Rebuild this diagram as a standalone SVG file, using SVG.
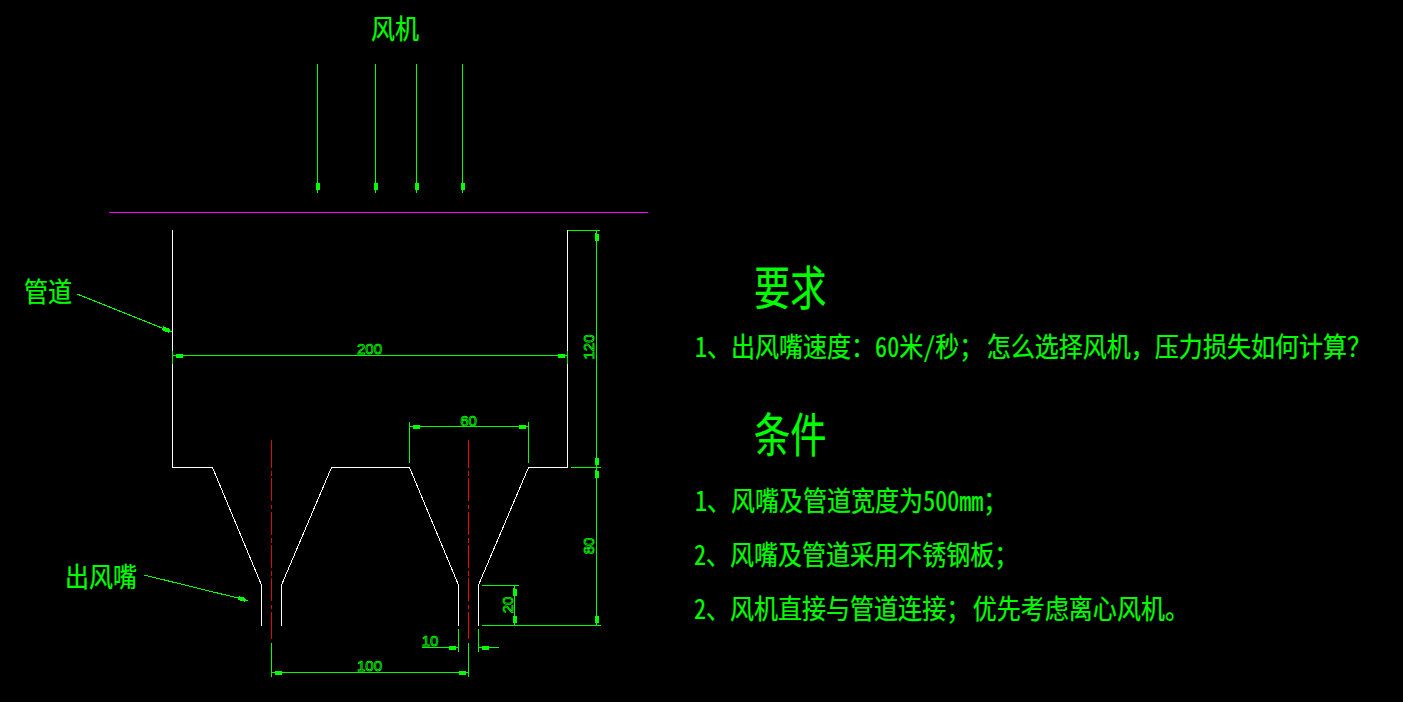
<svg xmlns="http://www.w3.org/2000/svg" width="1403" height="702" viewBox="0 0 1403 702">
<style>
.w{fill:none;stroke:#fff;stroke-width:1;shape-rendering:crispEdges}
.g{fill:none;stroke:#0f0;stroke-width:1;shape-rendering:crispEdges}
.a{marker-end:url(#arr)}
.b{marker-start:url(#arr);marker-end:url(#arr)}
.c{font-family:"Noto Sans CJK SC","Noto Sans CJK TC",sans-serif;fill:#0f0;stroke:#0f0;stroke-width:.25}
.n{font-feature-settings:"hwid"}
.t{font-size:27.3px}
.h{font-size:47px}
.d{font-family:"Liberation Sans",Arial,sans-serif;font-size:15px;fill:none;stroke:#0f0;stroke-width:.75;text-anchor:middle}
.cl{fill:none;stroke-width:1;shape-rendering:crispEdges}
</style>
<defs>
<marker id="arr" markerUnits="userSpaceOnUse" markerWidth="12" markerHeight="8" refX="11" refY="4" orient="auto-start-reverse" overflow="visible">
<path d="M11 4 L8 3 L8 2 L1 2 L1 6 L8 6 L8 5 Z" fill="#0f0" shape-rendering="crispEdges"/>
</marker>
</defs>
<rect width="1403" height="702" fill="#000"/>
<g id="duct">
<path class="w" d="M172.5 230V467.5H212.5L261.5 585V626M281.5 626V585L331.5 467.5H409.5L458.5 585V626M478.5 626V585L528.5 467.5H567.5V230"/>
</g>
<g id="centerlines">
<path class="cl" stroke="#d21010" stroke-dasharray="23 3.3 4.7 2.3" d="M271.5 445V612"/>
<path class="cl" stroke="#d21010" d="M271.5 440V468M271.5 612V639"/>
<path class="cl" stroke="#f00" stroke-dasharray="23 3.3 4.7 2.3" d="M468.5 445V612"/>
<path class="cl" stroke="#f00" d="M468.5 440V468M468.5 612V639"/>
</g>
<g id="baffle"><path d="M109 212.5H648" fill="none" stroke="#f0f" stroke-width="1" shape-rendering="crispEdges"/></g>
<g id="connectors">
<path class="g a" d="M317.5 64V193"/>
<path class="g a" d="M375.5 64V193"/>
<path class="g a" d="M416.5 64V193"/>
<path class="g a" d="M462.5 64V193"/>
<path class="g a" d="M77 294L172 332"/>
<path class="g a" d="M144 575L248 600.5"/>
<path class="g b" d="M172.5 355.5H567.5"/>
<path class="g" d="M172.5 351V364M567.5 351V364"/>
<path class="g b" d="M409.5 426.5H528.5"/>
<path class="g" d="M409.5 422V463M528.5 422V463"/>
<path class="g b" d="M596.5 230.5V467.5"/>
<path class="g b" d="M596.5 467.5V625.5"/>
<path class="g" d="M568 230.5H600M571 467.5H601M482 625.5H601M482 585.5H519"/>
<path class="g b" d="M514.5 585.5V625.5"/>
<path class="g a" d="M422 647.5H458.5"/>
<path class="g a" d="M499 647.5H478.5"/>
<path class="g" d="M458.5 629V652M478.5 629V652M468.5 643V677M271.5 643V677"/>
<path class="g b" d="M271.5 672.5H468.5"/>
</g>
<g id="dims">
<text class="d" x="369.5" y="354">200</text>
<text class="d" x="468.5" y="426">60</text>
<text class="d" x="430" y="646">10</text>
<text class="d" x="369.5" y="671">100</text>
<text class="d" transform="translate(594 347) rotate(-90)">120</text>
<text class="d" transform="translate(594 546) rotate(-90)">80</text>
<text class="d" transform="translate(513 605) rotate(-90)">20</text>
</g>
<g id="labels">
<text class="c t" transform="translate(371 39) scale(.88 1)">风机</text>
<text class="c t" transform="translate(24 302) scale(.88 1)">管道</text>
<text class="c t" transform="translate(65 587) scale(.88 1)">出风嘴</text>
</g>
<g id="notes">
<text class="c h" transform="translate(754 305) scale(.77 1)">要求</text>
<text class="c t" transform="translate(695 357) scale(.88 1)"><tspan class="n">1</tspan>、出风嘴速度：<tspan class="n">60</tspan>米<tspan class="n">/</tspan>秒；<tspan dx="4">怎么选择风机，压力损失如何计算？</tspan></text>
<text class="c h" transform="translate(754 452) scale(.77 1)">条件</text>
<text class="c t" transform="translate(695 511) scale(.88 1)"><tspan class="n">1</tspan>、风嘴及管道宽度为<tspan class="n">500mm</tspan>；</text>
<text class="c t" transform="translate(694 565) scale(.88 1)"><tspan class="n">2</tspan>、风嘴及管道采用不锈钢板；</text>
<text class="c t" transform="translate(694 619) scale(.88 1)"><tspan class="n">2</tspan>、风机直接与管道连接；<tspan dx="3">优先考虑离心风机。</tspan></text>
</g>
</svg>
